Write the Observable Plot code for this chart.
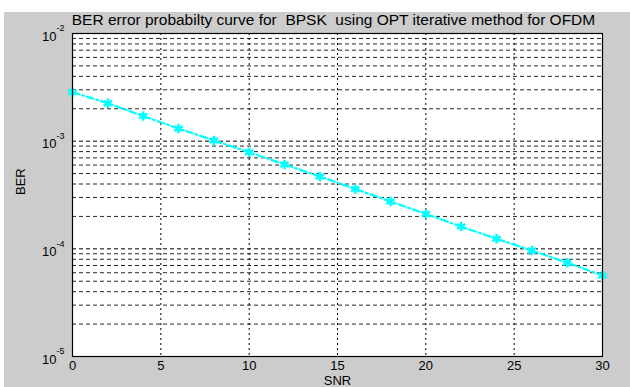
<!DOCTYPE html>
<html>
<head>
<meta charset="utf-8">
<script src="https://cdn.jsdelivr.net/npm/d3@7"></script>
<script src="https://cdn.jsdelivr.net/npm/@observablehq/plot@0.6"></script>
<style>
  html, body { margin: 0; padding: 0; background: #ffffff; }
  #wrap { position: relative; width: 630px; height: 387px; overflow: hidden; }
  #bg { position: absolute; left: 4px; top: 12px; right: 0; bottom: 0; background: #cccccc; }
  #chart { position: absolute; left: 0; top: 0; }
  svg text { white-space: pre; }
</style>
</head>
<body>
<div id="wrap"><div id="bg"></div><div id="chart"></div></div>
<script>
// Data
const snr = [0, 2, 4, 6, 8, 10, 12, 14, 16, 18, 20, 22, 24, 26, 28, 30];
const ber = [2.85e-3, 2.25e-3, 1.71e-3, 1.31e-3, 1.015e-3, 7.9e-4, 6.08e-4, 4.70e-4,
             3.60e-4, 2.75e-4, 2.11e-4, 1.61e-4, 1.24e-4, 9.66e-5, 7.43e-5, 5.66e-5];
const xTicks = [0, 5, 10, 15, 20, 25, 30];
const xGrid = [5, 10, 15, 20, 25];
const yDecades = [1e-5, 1e-4, 1e-3, 1e-2];
const yExponents = ["-5", "-4", "-3", "-2"];
const yGridMinor = [2e-5, 3e-5, 4e-5, 5e-5, 6e-5, 7e-5, 8e-5, 9e-5,
                    2e-4, 3e-4, 4e-4, 5e-4, 6e-4, 7e-4, 8e-4, 9e-4,
                    2e-3, 3e-3, 4e-3, 5e-3, 6e-3, 7e-3, 8e-3, 9e-3];
const yGridMajor = [1e-4, 1e-3];
const titleText = "BER error probabilty curve for  BPSK  using OPT iterative method for OFDM";
const xLabel = "SNR";
const yLabel = "BER";

const data = snr.map((s, i) => ({snr: s, ber: ber[i]}));
const decades = yDecades.map((v, i) => ({v, e: yExponents[i]}));

const chart = Plot.plot({
  width: 630,
  height: 387,
  marginLeft: 72,
  marginRight: 28,
  marginTop: 33,
  marginBottom: 31,
  style: {background: "transparent", fontFamily: "'Liberation Sans', Arial, sans-serif", color: "#000"},
  x: {domain: [0, 30], axis: null},
  y: {type: "log", domain: [1e-5, 1e-2], axis: null},
  marks: [
    Plot.frame({fill: "#ffffff", stroke: "none"}),
    Plot.ruleY(yGridMinor, {y: d => d, stroke: "#000", strokeWidth: 1, strokeDasharray: "4,3", strokeOpacity: 0.85}),
    Plot.ruleY(yGridMajor, {y: d => d, stroke: "#000", strokeWidth: 1, strokeDasharray: "4,3"}),
    Plot.ruleX(xGrid, {x: d => d, stroke: "#000", strokeWidth: 1, strokeDasharray: "2,3"}),
    Plot.line(data, {x: "snr", y: "ber", stroke: "#00ffff", strokeWidth: 2.2, strokeDasharray: "7,3,2,3"}),
    Plot.dot(data, {x: "snr", y: "ber", symbol: "asterisk", r: 4.5, stroke: "#00ffff", strokeWidth: 2.5}),
    Plot.frame({stroke: "#000", strokeWidth: 1.2}),
    // x tick labels
    Plot.text(xTicks, {x: d => d, text: d => String(d), frameAnchor: "bottom", lineAnchor: "top", dy: 4, fontSize: 13}),
    // y tick labels: "10" with superscript exponent
    Plot.text(decades, {y: "v", text: () => "10", frameAnchor: "left", textAnchor: "end", dx: -16, dy: 3, fontSize: 13}),
    Plot.text(decades, {y: "v", text: "e", frameAnchor: "left", textAnchor: "start", dx: -16, dy: -5, fontSize: 9}),
    // title and axis labels
    Plot.text([titleText], {text: d => d, frameAnchor: "top", lineAnchor: "bottom", dy: -9, dx: -4, fontSize: 15.5}),
    Plot.text([xLabel], {text: d => d, frameAnchor: "bottom", lineAnchor: "top", dy: 19, fontSize: 13}),
    Plot.text([yLabel], {text: d => d, frameAnchor: "left", rotate: -90, dx: -52, fontSize: 13})
  ]
});
document.getElementById("chart").appendChild(chart);
</script>
</body>
</html>
